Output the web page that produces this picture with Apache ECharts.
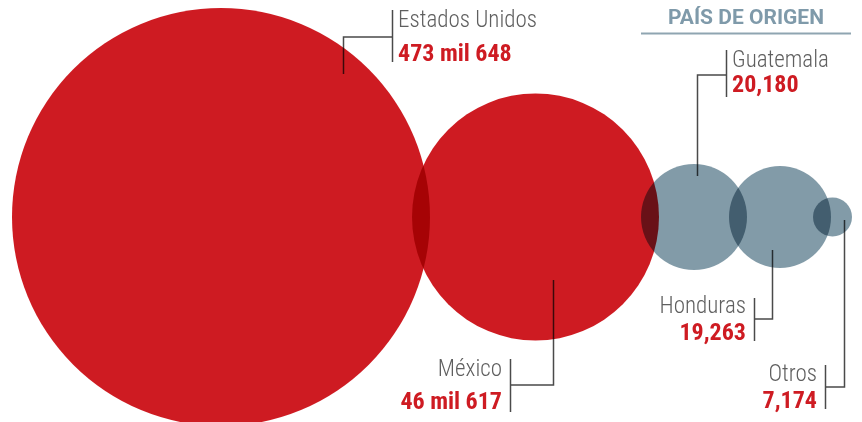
<!DOCTYPE html>
<html><head><meta charset="utf-8">
<script src="https://cdn.jsdelivr.net/npm/echarts@6/dist/echarts.min.js"></script>
<style>html,body{margin:0;padding:0;background:#fff}#c{width:862px;height:422px}</style>
</head><body><div id="c"></div>
<script>
// ---- data ----
const categories = ['Estados Unidos', 'México', 'Guatemala', 'Honduras', 'Otros'];
const values = [473648, 46617, 20180, 19263, 7174];
const valueLabels = ['473 mil 648', '46 mil 617', '20,180', '19,263', '7,174'];
const titleText = 'PAÍS DE ORIGEN';

// ---- styles / layout ----
const RED = '#CE1B22', GRAY = '#829BA8', LINE = '#4a4a4a', NAME = '#5f5f5f', TITLE = '#7F9AAA';
const colors = [RED, RED, GRAY, GRAY, GRAY];
const radii = [209, 123.5, 53, 51, 19.5];
const OVERLAP = 18, START_X = 12, CENTER_Y = 217;
const NAME_FONT = "300 23px 'Roboto Condensed', Roboto, sans-serif";
const VAL_FONT = "bold 24px 'Roboto Condensed', Roboto, sans-serif";

const xs = [];
radii.forEach((r, i) => {
  xs.push(i === 0 ? START_X + r : xs[i - 1] + radii[i - 1] + r - OVERLAP);
});

// callouts: anchor offset from bubble centre, elbow, bar, text side
const callouts = [
  {dx: 122, dy: -143, elbowY: 37, barX: 392, barY: [10, 62], side: 'right', nameY: 21, valY: 55},
  {dx: 17, dy: 63, elbowY: 385, barX: 510, barY: [359, 412], side: 'left', nameY: 370, valY: 403},
  {dx: 3, dy: -41, elbowY: 75, barX: 726, barY: [50, 97], side: 'right', nameY: 61, valY: 86},
  {dx: -8, dy: 33, elbowY: 319, barX: 754, barY: [298, 341], side: 'left', nameY: 307, valY: 334},
  {dx: 11, dy: 3, elbowY: 387, barX: 825, barY: [365, 409], side: 'left', nameY: 375, valY: 402}
];

const chart = echarts.init(document.getElementById('c'), null, {renderer: 'canvas'});
chart.setOption({
  backgroundColor: '#fff',
  animation: false,
  grid: {left: 0, right: 0, top: 0, bottom: 0},
  xAxis: {type: 'value', min: 0, max: 862, show: false},
  yAxis: {type: 'value', min: 0, max: 422, inverse: true, show: false},
  series: [{
    type: 'scatter',
    silent: true,
    blendMode: 'multiply',
    symbol: 'circle',
    symbolSize: (v, p) => radii[p.dataIndex] * 2,
    data: values.map((v, i) => ({
      name: categories[i],
      value: [xs[i], CENTER_Y, v],
      itemStyle: {color: colors[i], opacity: 1}
    }))
  }]
});

const graphics = [];
callouts.forEach((c, i) => {
  const p = chart.convertToPixel({gridIndex: 0}, [xs[i], CENTER_Y]);
  const ax = Math.round(p[0] + c.dx) + 0.5, ay = p[1] + c.dy;
  graphics.push({type: 'polyline', silent: true, shape: {points: [[ax, ay], [ax, c.elbowY], [c.barX + 0.5, c.elbowY]]},
    style: {stroke: LINE, lineWidth: 1.5, fill: null}});
  graphics.push({type: 'line', silent: true, shape: {x1: c.barX + 0.5, y1: c.barY[0], x2: c.barX + 0.5, y2: c.barY[1]},
    style: {stroke: LINE, lineWidth: 1.5}});
  const tx = c.side === 'right' ? c.barX + 6 : c.barX - 8;
  const align = c.side === 'right' ? 'left' : 'right';
  graphics.push({type: 'text', silent: true, x: tx, y: c.nameY,
    style: {text: categories[i], fill: NAME, font: NAME_FONT, textAlign: align, textVerticalAlign: 'middle'}});
  graphics.push({type: 'text', silent: true, x: tx, y: c.valY,
    style: {text: valueLabels[i], fill: RED, font: VAL_FONT, textAlign: align, textVerticalAlign: 'middle'}});
});
graphics.push({type: 'text', silent: true, x: 746, y: 19,
  style: {text: titleText, fill: TITLE, font: "bold 21px Roboto, sans-serif", textAlign: 'center', textVerticalAlign: 'middle'}});
graphics.push({type: 'line', silent: true, shape: {x1: 641, y1: 33.5, x2: 851, y2: 33.5},
  style: {stroke: '#8FA5B1', lineWidth: 2}});

chart.setOption({graphic: graphics});
</script></body></html>
